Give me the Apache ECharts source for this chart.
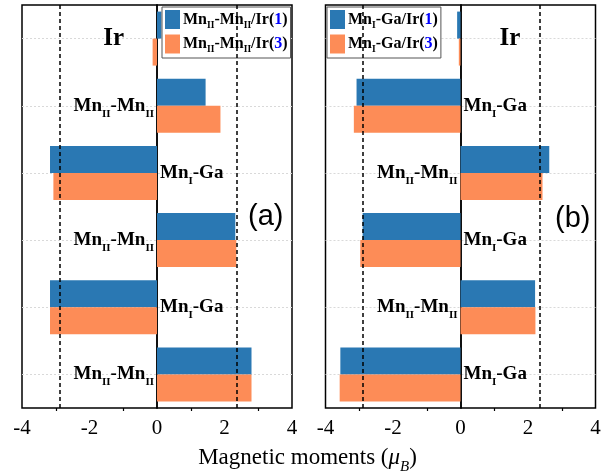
<!DOCTYPE html>
<html>
<head>
<meta charset="utf-8">
<script src="https://cdn.jsdelivr.net/npm/echarts@6/dist/echarts.min.js"></script>
<style>
  html, body { margin: 0; padding: 0; background: #fff; }
  #chart { width: 615px; height: 475px; }
</style>
</head>
<body>
<div id="chart"></div>
<script>
// rows top -> bottom
var rowsA = ['Ir', 'MnII-MnII', 'MnI-Ga', 'MnII-MnII', 'MnI-Ga', 'MnII-MnII'];
var blueA = [0.13, 1.44, -3.17, 2.32, -3.17, 2.80];
var orangeA = [-0.13, 1.88, -3.07, 2.35, -3.17, 2.80];

var rowsB = ['Ir', 'MnI-Ga', 'MnII-MnII', 'MnI-Ga', 'MnII-MnII', 'MnI-Ga'];
var blueB = [-0.10, -3.08, 2.63, -2.90, 2.21, -3.56];
var orangeB = [-0.05, -3.16, 2.43, -2.97, 2.22, -3.58];

var namesA = ['MnII-MnII/Ir(1)', 'MnII-MnII/Ir(3)'];
var namesB = ['MnI-Ga/Ir(1)', 'MnI-Ga/Ir(3)'];
var refLinesA = [-2.89, 2.36];
var refLinesB = [-2.90, 2.35];

var BLUE = '#2a78b3';
var ORANGE = '#fd8c57';
var SERIF = '"Liberation Serif", "Times New Roman", serif';
var PANEL_W = 270;

// 'MnII-MnII' -> 'Mn{s|II}-Mn{s|II}'
function rowText(s) {
  if (s === 'Ir') return '{ir|Ir}';
  return s.replace(/Mn(II|I)/g, 'Mn{s|$1}');
}
function legendText(s) {
  return s.replace(/Mn(II|I)/g, 'Mn{s|$1}').replace(/\((\d)\)/, '({n|$1})');
}

var subStyle = { fontSize: 11, fontWeight: 'bold', fontFamily: SERIF, verticalAlign: 'bottom', lineHeight: 13, padding: [0, 0, -4, 0] };

function yAxes(grid, rows, blue, side) {
  // labels sit on the side opposite the blue bar
  var show = function (i) { return side === 'left' ? blue[i] >= 0 : blue[i] < 0; };
  return {
    type: 'category', gridIndex: grid, data: rows, inverse: true, position: side,
    offset: -PANEL_W / 2,
    axisLine: { onZero: false, lineStyle: { color: '#000', width: 1.5 } },
    axisTick: { length: 4, lineStyle: { color: '#000', width: 1.5 }, alignWithLabel: true },
    splitLine: { show: false },
    axisLabel: {
      interval: 0, margin: 3,
      fontFamily: SERIF, fontWeight: 'bold', fontSize: 19, color: '#000',
      formatter: function (v, i) { return show(i) ? rowText(v) : ''; },
      rich: {
        s: subStyle,
        ir: { fontSize: 25, fontWeight: 'bold', fontFamily: SERIF, color: '#000',
          padding: side === 'left' ? [0, 30, 0, 0] : [0, 0, 0, 36] }
      }
    }
  };
}

function xAxes(grid) {
  return [{
    type: 'value', gridIndex: grid, position: 'bottom', min: -4, max: 4, interval: 2,
    axisLine: { lineStyle: { color: '#000', width: 1.5 } },
    axisTick: { length: 6, lineStyle: { color: '#000', width: 1.5 } },
    minorTick: { show: true, splitNumber: 2, length: 3, lineStyle: { color: '#000', width: 1.2 } },
    splitLine: { show: false },
    axisLabel: { margin: 10, fontFamily: SERIF, fontSize: 21, color: '#000' }
  }, {
    type: 'value', gridIndex: grid, position: 'top', min: -4, max: 4, interval: 1,
    axisLine: { lineStyle: { color: '#000', width: 1.5 } },
    axisTick: { inside: true, length: 5, lineStyle: { color: '#000', width: 1.2 } },
    splitLine: { show: false },
    axisLabel: { show: false }
  }];
}

function bars(grid, names, blue, orange, refs) {
  return [{
    // faint dotted row guides at each category centre, under the bars
    type: 'line', xAxisIndex: grid * 2, yAxisIndex: grid * 2, data: [], z: 0,
    silent: true,
    markLine: {
      silent: true, symbol: 'none', label: { show: false }, z: 0,
      lineStyle: { color: '#d9d9d9', type: [2, 2], width: 1 },
      data: blue.map(function (v, i) { return { yAxis: i }; })
    }
  }, {
    name: names[0], type: 'bar', xAxisIndex: grid * 2, yAxisIndex: grid * 2,
    data: blue, barWidth: 27, barGap: '0%', itemStyle: { color: BLUE },
    markLine: {
      silent: true, symbol: 'none', label: { show: false },
      lineStyle: { color: '#000', type: [4, 3], width: 1.5 },
      data: refs.map(function (v) { return { xAxis: v }; })
    }
  }, {
    name: names[1], type: 'bar', xAxisIndex: grid * 2, yAxisIndex: grid * 2,
    data: orange, barWidth: 27, barGap: '0%', itemStyle: { color: ORANGE }
  }];
}

function legend(left, names) {
  return {
    left: left, top: 7, orient: 'vertical', data: names,
    backgroundColor: '#fff', borderColor: '#555', borderWidth: 1, borderRadius: 0,
    padding: [3, 3, 3, 3], itemGap: 4, itemWidth: 15, itemHeight: 19, icon: 'rect',
    formatter: legendText,
    textStyle: {
      fontFamily: SERIF, fontWeight: 'bold', fontSize: 16, color: '#000', padding: [0, 0, 0, -2],
      rich: {
        s: { fontSize: 9.5, fontWeight: 'bold', fontFamily: SERIF, verticalAlign: 'bottom', lineHeight: 11, padding: [0, 0, -3, 0] },
        n: { fontSize: 16, fontWeight: 'bold', fontFamily: SERIF, color: '#0000ff' }
      }
    }
  };
}

var chart = echarts.init(document.getElementById('chart'));
chart.setOption({
  animation: false,
  backgroundColor: '#fff',
  grid: [
    { left: 22, top: 5, width: PANEL_W, height: 403, show: true, borderColor: '#000', borderWidth: 1.5,
      outerBoundsMode: 'none', containLabel: false },
    { left: 325.5, top: 5, width: PANEL_W, height: 403, show: true, borderColor: '#000', borderWidth: 1.5,
      outerBoundsMode: 'none', containLabel: false }
  ],
  xAxis: xAxes(0).concat(xAxes(1)),
  yAxis: [
    yAxes(0, rowsA, blueA, 'left'), yAxes(0, rowsA, blueA, 'right'),
    yAxes(1, rowsB, blueB, 'left'), yAxes(1, rowsB, blueB, 'right')
  ],
  legend: [legend(162, namesA), legend(327, namesB)],
  title: {
    left: 'center', top: 441,
    text: '{t|Magnetic moments (}{mu|μ}{b|B}{t|)}',
    textStyle: {
      fontWeight: 'normal',
      rich: {
        t: { fontFamily: SERIF, fontSize: 23, fontWeight: 'normal', color: '#000' },
        mu: { fontFamily: SERIF, fontSize: 23, fontWeight: 'normal', fontStyle: 'italic', color: '#000' },
        b: { fontFamily: SERIF, fontSize: 15, fontWeight: 'normal', fontStyle: 'italic', color: '#000', verticalAlign: 'bottom', lineHeight: 16, padding: [0, 0, -6, 0] }
      }
    }
  },
  graphic: [
    { type: 'text', left: 248, top: 202, style: { text: '(a)', font: '29px "Liberation Sans", sans-serif', fill: '#000' } },
    { type: 'text', left: 555, top: 204, style: { text: '(b)', font: '29px "Liberation Sans", sans-serif', fill: '#000' } }
  ],
  series: bars(0, namesA, blueA, orangeA, refLinesA).concat(bars(1, namesB, blueB, orangeB, refLinesB))
});
</script>
</body>
</html>
